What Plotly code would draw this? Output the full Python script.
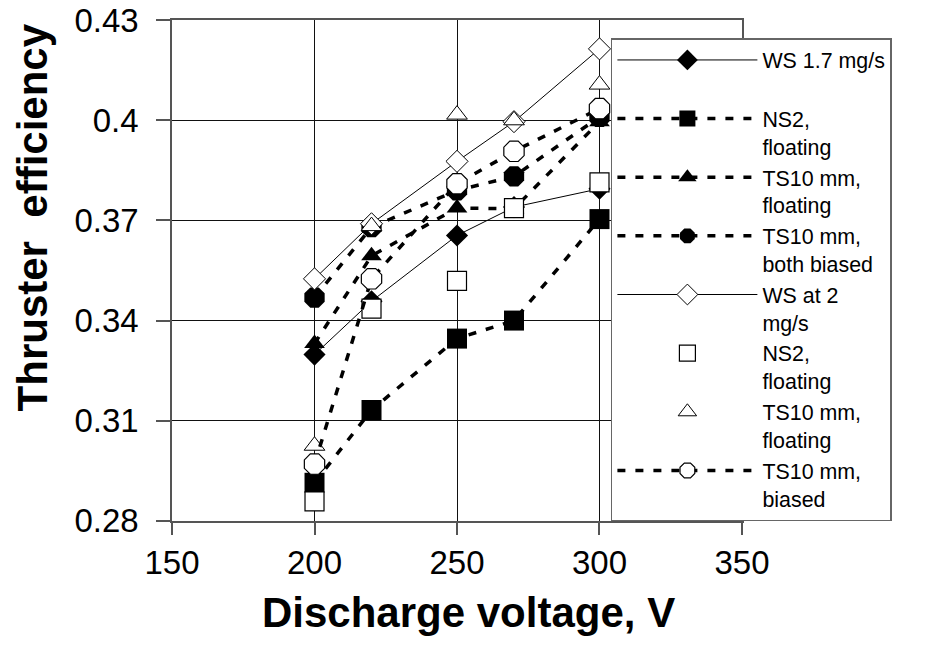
import plotly.graph_objects as go

voltage = [200, 220, 250, 270, 300]

ws17 = [0.3298, 0.3458, 0.3655, 0.3740, 0.3795]
ns2_fill = [0.2914, 0.3132, 0.3346, 0.3400, 0.3704]
ts10_float_fill = [0.3331, 0.3594, 0.3737, 0.3735, 0.3996]
ts10_both = [0.3469, 0.3680, 0.3790, 0.3832, 0.4010]
ws2 = [0.3525, 0.3690, 0.3877, 0.3996, 0.4214]
ns2_open = [0.2858, 0.3436, 0.3519, 0.3737, 0.3814]
ts10_float_open = [0.3025, 0.3683, 0.4017, 0.4000, 0.4107]
ts10_biased = [0.2970, 0.3525, 0.3810, 0.3907, 0.4035]

names = ["WS 1.7 mg/s<br> ", "NS2,<br>floating", "TS10 mm,<br>floating",
         "TS10 mm,<br>both biased", "WS at 2<br>mg/s", "NS2,<br>floating",
         "TS10 mm,<br>floating", "TS10 mm,<br>biased"]

yticks = [0.28, 0.31, 0.34, 0.37, 0.40, 0.43]
yticktext = ["0.28", "0.31", "0.34", "0.37", "0.4", "0.43"]
xticks = [150, 200, 250, 300, 350]
x_title = "Discharge voltage, V"
y_title = "Thruster  efficiency"

DOT = dict(color="black", width=3.5, dash="8px,10px")
SOLID = dict(color="black", width=1)

fig = go.Figure()
fig.add_trace(go.Scatter(x=voltage, y=ws17, name=names[0], mode="lines+markers", line=SOLID,
                         marker=dict(symbol="diamond", size=17, color="black")))
fig.add_trace(go.Scatter(x=voltage, y=ns2_fill, name=names[1], mode="lines+markers", line=DOT,
                         marker=dict(symbol="square", size=20, color="black")))
fig.add_trace(go.Scatter(x=voltage, y=ts10_float_fill, name=names[2], mode="lines+markers", line=DOT,
                         marker=dict(symbol="triangle-up", size=18, color="black")))
fig.add_trace(go.Scatter(x=voltage, y=ts10_both, name=names[3], mode="lines+markers", line=DOT,
                         marker=dict(symbol="octagon", size=22, color="black")))
fig.add_trace(go.Scatter(x=voltage, y=ws2, name=names[4], mode="lines+markers", line=SOLID,
                         marker=dict(symbol="diamond", size=17, color="white",
                                     line=dict(color="black", width=1))))
fig.add_trace(go.Scatter(x=voltage, y=ns2_open, name=names[5], mode="markers",
                         marker=dict(symbol="square", size=19, color="white",
                                     line=dict(color="black", width=1.2))))
fig.add_trace(go.Scatter(x=voltage, y=ts10_float_open, name=names[6], mode="markers",
                         marker=dict(symbol="triangle-up", size=18, color="white",
                                     line=dict(color="black", width=1))))
fig.add_trace(go.Scatter(x=voltage, y=ts10_biased, name=names[7], mode="lines+markers", line=DOT,
                         marker=dict(symbol="octagon", size=22, color="white",
                                     line=dict(color="black", width=1.2))))

FAM = "Arial, Liberation Sans, sans-serif"
axis_font = dict(family=FAM, size=33, color="black")
title_font = dict(family=FAM, size=42, color="black", weight="bold")

fig.update_layout(
    width=925, height=645,
    margin=dict(l=172, r=183, t=20, b=124),
    paper_bgcolor="white", plot_bgcolor="white",
    showlegend=True,
    legend=dict(x=0.770, y=0.964, xanchor="left", yanchor="top",
                bgcolor="white", bordercolor="#666", borderwidth=1.5,
                font=dict(family=FAM, size=21.4, color="black"),
                valign="top", itemwidth=140, tracegroupgap=0, maxheight=600),
    xaxis=dict(range=[149.99, 350.01], tickvals=xticks, showgrid=True, gridcolor="#111", gridwidth=1,
               showline=True, linecolor="#555", linewidth=1.5, mirror=True,
               ticks="outside", ticklen=12, tickcolor="#555", tickwidth=1.5,
               tickfont=axis_font, zeroline=False, ticklabeloverflow="allow", automargin=False),
    yaxis=dict(range=[0.27995, 0.43005], tickvals=yticks, ticktext=yticktext, showgrid=True,
               gridcolor="#111", gridwidth=1,
               showline=True, linecolor="#555", linewidth=1.5, mirror=True,
               ticks="outside", ticklen=14, tickcolor="#555", tickwidth=1.5,
               tickfont=axis_font, zeroline=False, ticklabelstandoff=11,
               ticklabeloverflow="allow", automargin=False),
    annotations=[
        dict(text=x_title, xref="paper", yref="paper", x=0.521, y=-0.183,
             xanchor="center", yanchor="middle", showarrow=False, font=title_font),
        dict(text=y_title, xref="paper", yref="paper", x=-0.2456, y=0.606,
             xanchor="center", yanchor="middle", showarrow=False, textangle=-90, font=title_font),
    ],
)

fig.write_html("out.html", config={"displayModeBar": False},
               post_script="document.body.style.margin='0';")
